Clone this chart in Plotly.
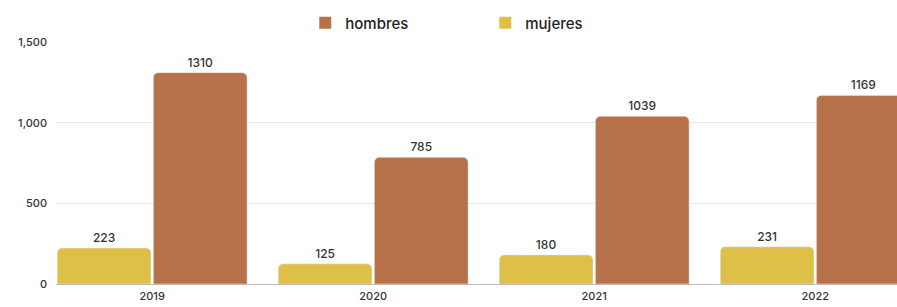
import plotly.graph_objects as go

years = ["2019", "2020", "2021", "2022"]
mujeres = [223, 125, 180, 231]
hombres = [1310, 785, 1039, 1169]
y_ticks = [0, 500, 1000, 1500]
y_tick_labels = ["0", "500", "1,000", "1,500"]

C_H = "#B87249"
C_M = "#DEC048"
FONT = "Inter, Open Sans, sans-serif"

fig = go.Figure()
fig.add_trace(go.Bar(
    x=years, y=mujeres, name="mujeres", marker_color=C_M, showlegend=False,
    text=[str(v) for v in mujeres], textposition="outside", cliponaxis=False,
    textfont=dict(size=12, color="#333333", family=FONT, weight=500),
))
fig.add_trace(go.Bar(
    x=years, y=hombres, name="hombres", marker_color=C_H, showlegend=False,
    text=[str(v) for v in hombres], textposition="outside", cliponaxis=False,
    textfont=dict(size=12, color="#333333", family=FONT, weight=500),
))
# legend entries with square swatches
for name, col in [("hombres", C_H), ("mujeres", C_M)]:
    fig.add_trace(go.Scatter(
        x=[None], y=[None], mode="markers", name=name,
        marker=dict(symbol="square", size=12, color=col),
    ))

fig.update_layout(
    width=897, height=307,
    margin=dict(l=56, r=0, t=42, b=23, autoexpand=False),
    paper_bgcolor="white", plot_bgcolor="white",
    barmode="group", bargap=0.13, bargroupgap=0.025,
    barcornerradius=5,
    font=dict(family=FONT, color="#333333", size=11),
    showlegend=True,
    legend=dict(orientation="h", xref="container", yref="container",
                x=0.541, xanchor="center", y=1 - 23 / 307, yanchor="middle",
                font=dict(size=15, color="#222222", weight=500),
                entrywidth=135, entrywidthmode="pixels", itemwidth=30),
    xaxis=dict(type="category", range=[-0.435, 3.37], showgrid=False, showline=False,
               ticks="", tickfont=dict(size=11, color="#333333", weight=500),
               ticklabelstandoff=4, automargin=False),
    yaxis=dict(range=[0, 1500], tickvals=y_ticks, ticktext=y_tick_labels,
               showgrid=True, gridcolor="#E6E6E6", gridwidth=1,
               zeroline=True, zerolinecolor="#BDBDBD", zerolinewidth=1,
               ticks="", tickfont=dict(size=11, color="#333333", weight=500),
               ticklabelstandoff=8, automargin=False),
)

fig.write_html("out.html", config={"displayModeBar": False},
               post_script="document.body.style.margin='0';")
